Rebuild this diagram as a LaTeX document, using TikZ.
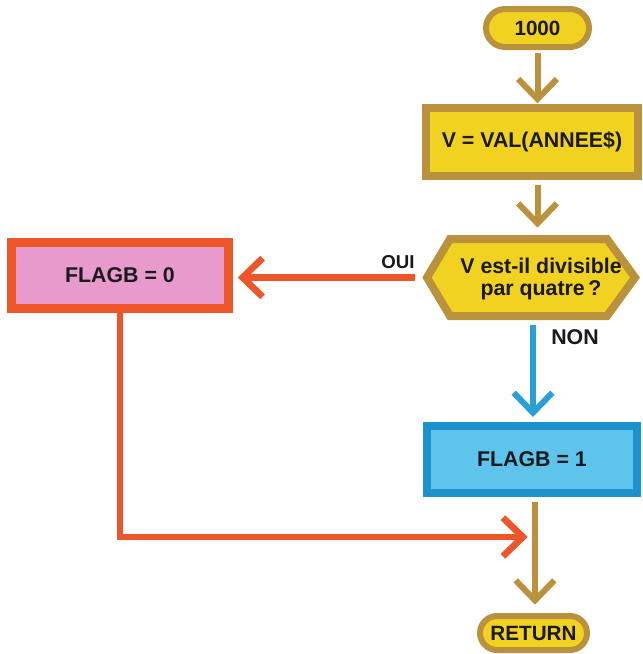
\documentclass[tikz,border=0pt]{standalone}
\usepackage{fontspec}
\setmainfont{Liberation Sans}
\usetikzlibrary{arrows.meta,calc}
\definecolor{ylw}{RGB}{242,210,32}
\definecolor{gold}{RGB}{186,146,62}
\definecolor{redo}{RGB}{238,86,42}
\definecolor{pinkf}{RGB}{232,154,204}
\definecolor{blueb}{RGB}{28,146,204}
\definecolor{bluef}{RGB}{94,196,236}
\definecolor{bluea}{RGB}{40,160,215}
\definecolor{txt}{RGB}{25,25,30}
\begin{document}
\begin{tikzpicture}[x=0.75pt,y=-0.75pt,
  >={Straight Barb[length=15pt,width=29pt]},
  lbl/.style={font=\fontsize{16}{16.5}\selectfont\bfseries, text=txt},
  tlbl/.style={font=\fontsize{15.5}{16.5}\selectfont\bfseries, text=txt},
  term/.style={tlbl, draw=gold, fill=ylw, line width=4.5pt, inner sep=0pt, outer sep=0pt},
  ybox/.style={lbl, draw=gold, fill=ylw, line width=6pt, inner sep=0pt, outer sep=0pt, minimum width=159pt, minimum height=51pt},
  pbox/.style={lbl, draw=redo, fill=pinkf, line width=6.75pt, inner sep=0pt, outer sep=0pt, minimum width=162.75pt, minimum height=49.5pt},
  bbox/.style={lbl, draw=blueb, fill=bluef, line width=6pt, inner sep=0pt, outer sep=0pt, minimum width=157.5pt, minimum height=50.25pt},
  goldarrow/.style={draw=gold, line width=4.5pt, ->},
  redarrow/.style={draw=redo, line width=5pt, ->},
  bluearrow/.style={draw=bluea, line width=4.5pt, ->}]
\useasboundingbox (0,0) rectangle (643,654);
\clip (0,0) rectangle (643,654);
\fill[white] (0,0) rectangle (643,654);

% nodes
\node[term, minimum width=77.25pt, minimum height=28.5pt, rounded corners=14.25pt] (t1) at (537.5,28) {1000};
\node[ybox] (b1) at (532,142) {V = VAL(ANNEE\$)};
\node[inner sep=0pt, outer sep=0pt, minimum width=156pt, minimum height=57.75pt] (q) at (531,277.5) {};
\draw[draw=gold, fill=ylw, line width=6pt, line join=miter]
  (q.west) -- ($(q.north west)+(23,0)$) -- ($(q.north east)+(-28,0)$) -- (q.east)
  -- ($(q.south east)+(-28,0)$) -- ($(q.south west)+(23,0)$) -- cycle;
\node[lbl, align=center, inner sep=0pt] (qt) at (541,279) {V est-il divisible\\par quatre\,?};
\node[pbox] (r0) at (120,275.5) {FLAGB = 0};
\node[bbox] (b2) at (532,459.5) {FLAGB = 1};
\node[term, minimum width=80.25pt, minimum height=25.5pt, rounded corners=12.75pt] (t2) at (533.5,633) {RETURN};

\node[lbl, font=\fontsize{14}{15}\selectfont\bfseries] (oui) at (398,262) {OUI};
\node[lbl] (non) at (575,337) {NON};

% connectors
\draw[goldarrow, shorten <=4.5pt, shorten >=3.5pt] (t1.south) -- (t1.south |- b1.north);
\draw[goldarrow, shorten <=6.75pt, shorten >=8.5pt] (t1.south |- b1.south) -- (t1.south |- q.north);
\draw[redarrow, shorten <=9pt, shorten >=7pt] (q.west) -- (q.west -| r0.east);
\path (t2.north) ++(1.5,-79) coordinate (j);
\draw[goldarrow, shorten <=6.75pt, shorten >=8.5pt] (t2.north |- b2.south) ++(1.5,0) -- ($(t2.north)+(1.5,0)$);
\draw[redarrow, shorten <=2pt, shorten >=5.5pt, line join=miter] (r0.south) |- (j);
\draw[bluearrow, shorten <=6.75pt, shorten >=6.75pt] ($(q.south)+(2,0)$) -- ($(q.south |- b2.north)+(2,0)$);
\end{tikzpicture}
\end{document}
